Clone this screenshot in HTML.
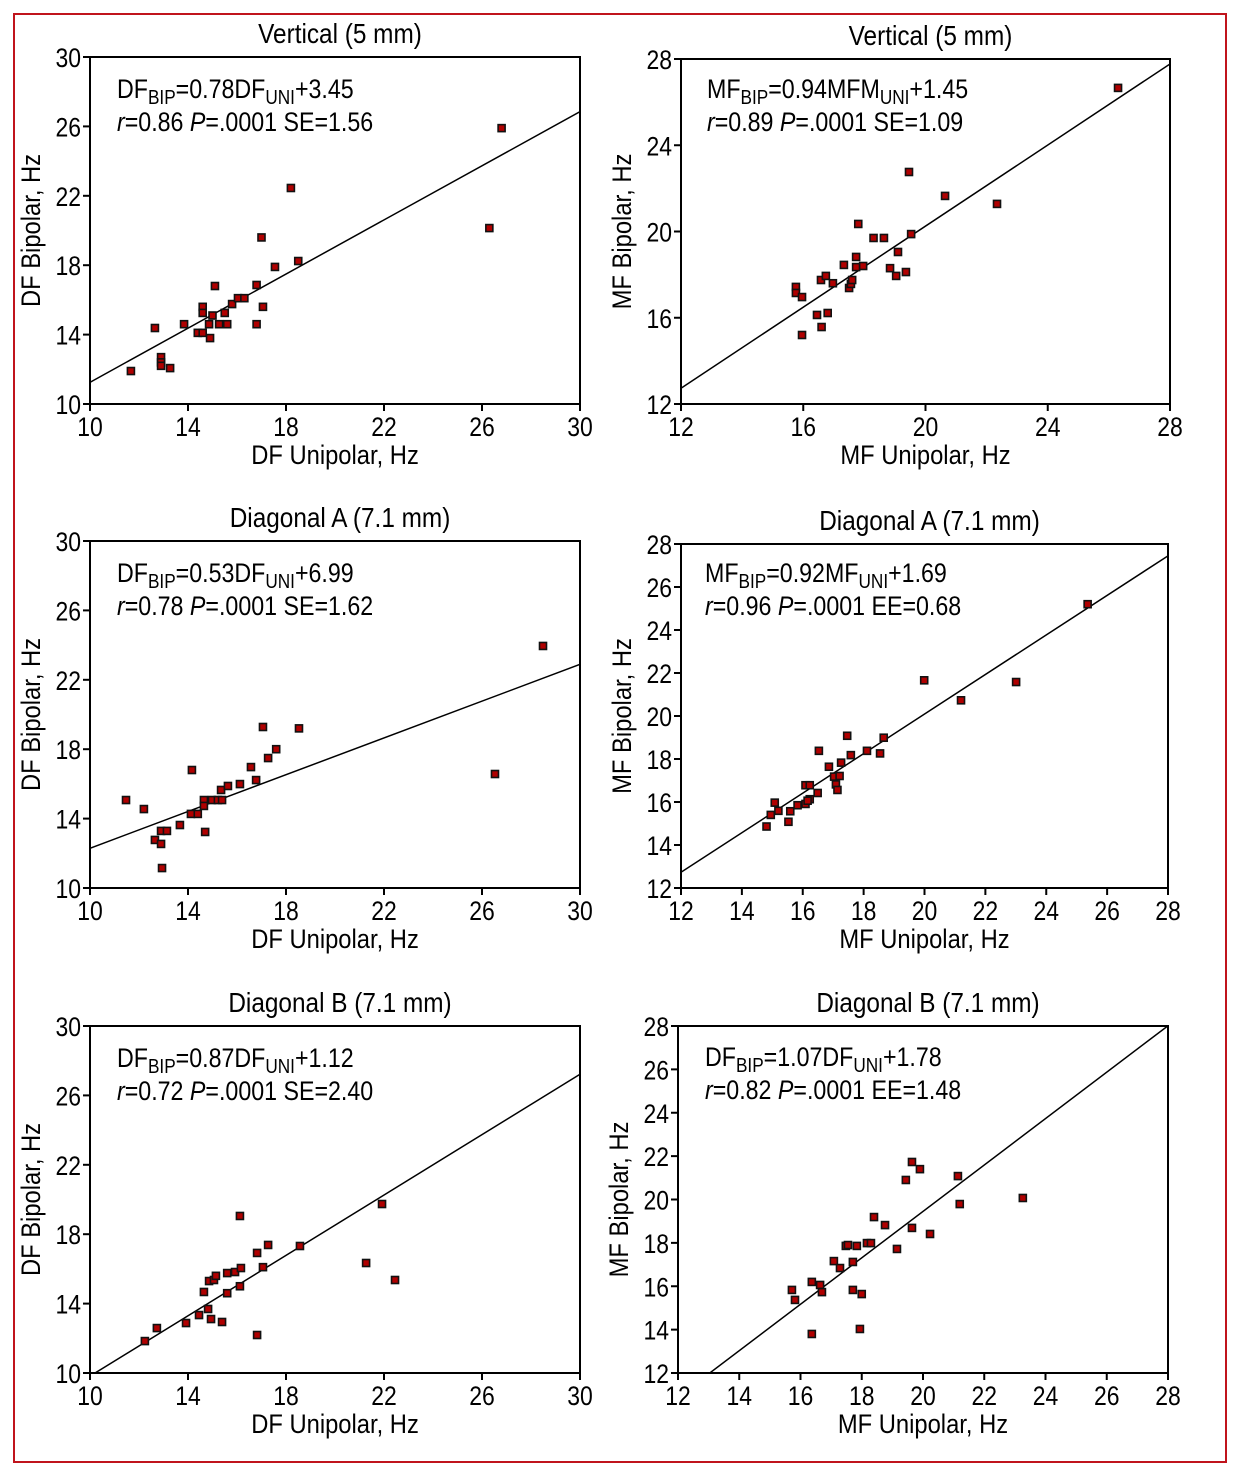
<!DOCTYPE html>
<html><head><meta charset="utf-8"><style>
html,body{margin:0;padding:0;background:#fff}
svg{display:block}
text{font-family:"Liberation Sans Narrow","Liberation Sans",sans-serif;fill:#000}
</style></head><body>
<svg id="fig" width="1235" height="1475" viewBox="0 0 1235 1475" xmlns="http://www.w3.org/2000/svg">
<rect x="14" y="14" width="1212" height="1448" fill="none" stroke="#c0141c" stroke-width="2"/>
</svg>
<script>
// ---- data ----
const p1x=[11.67,12.65,12.9,12.9,12.9,13.27,13.84,14.4,14.6,14.6,14.6,14.86,14.9,15.0,15.1,15.27,15.5,15.6,15.8,16.04,16.3,16.8,16.8,17.0,17.06,17.55,18.2,18.5,26.3,26.8];
const p1y=[11.9,14.38,12.7,12.4,12.2,12.07,14.6,14.1,14.1,15.6,15.25,14.6,13.8,15.1,16.8,14.6,15.25,14.6,15.76,16.1,16.1,14.6,16.86,19.6,15.6,17.9,22.45,18.24,20.14,25.9];
const p2x=[15.76,15.76,15.96,15.96,16.45,16.58,16.6,16.74,16.8,16.97,17.33,17.5,17.56,17.6,17.73,17.73,17.8,17.96,18.3,18.64,18.84,19.04,19.1,19.36,19.46,19.53,20.64,22.34,26.3];
const p2y=[17.43,17.15,16.96,15.2,16.13,17.75,15.57,17.94,16.22,17.6,18.45,17.38,17.57,17.75,18.82,18.35,20.35,18.4,19.7,19.7,18.3,17.94,19.05,18.12,22.76,19.88,21.65,21.28,26.66];
const p3x=[11.47,12.2,12.65,12.9,12.9,12.94,13.14,13.67,14.16,14.12,14.4,14.65,14.65,14.7,14.98,15.22,15.35,15.39,15.63,16.12,16.57,16.78,17.06,17.27,17.6,18.53,26.53,28.49];
const p3y=[15.07,14.55,12.77,13.29,12.54,11.15,13.29,13.63,16.8,14.27,14.27,15.07,14.73,13.23,15.07,15.07,15.65,15.07,15.88,15.99,16.97,16.22,19.28,17.49,18.0,19.2,16.57,23.95];
const p4x=[14.81,14.95,15.08,15.2,15.53,15.59,15.83,16.09,16.09,16.23,16.23,16.16,16.49,16.53,16.86,17.03,17.09,17.14,17.21,17.26,17.46,17.58,18.11,18.54,18.66,19.99,21.2,23.01,25.36];
const p4y=[14.86,15.4,15.97,15.59,15.08,15.57,15.85,15.91,16.78,16.78,16.13,16.06,16.42,18.38,17.64,17.18,16.82,16.56,17.21,17.83,19.08,18.18,18.38,18.26,18.99,21.66,20.73,21.58,25.2];
const p5x=[12.24,12.73,13.92,14.45,14.65,14.82,14.86,14.94,15.06,15.14,15.39,15.6,15.6,15.92,16.12,16.16,16.12,16.82,16.82,17.06,17.27,18.57,21.27,21.92,22.45];
const p5y=[11.84,12.59,12.88,13.34,14.67,13.69,15.3,13.11,15.36,15.6,12.94,14.6,15.76,15.82,15.0,16.05,19.05,16.92,12.19,16.1,17.38,17.32,16.34,19.74,15.36];
const p6x=[15.72,15.82,16.37,16.37,16.64,16.7,17.09,17.29,17.48,17.55,17.71,17.71,17.84,17.94,18.0,18.17,18.3,18.4,18.76,19.15,19.44,19.64,19.64,19.9,20.23,21.14,21.2,23.26];
const p6y=[15.83,15.37,13.8,16.2,16.06,15.73,17.16,16.84,17.86,17.9,17.12,15.83,17.86,14.03,15.64,17.99,17.99,19.19,18.82,17.72,20.9,18.69,21.73,21.4,18.41,21.08,19.79,20.07];
const lineSlope=[0.78,0.94,0.53,0.92,0.87,1.07];
const lineIntercept=[3.45,1.45,6.99,1.69,1.12,-1.95];
const dfTicks=[10,14,18,22,26,30];
const mfTicksA=[12,16,20,24,28];
const mfTicksB=[12,14,16,18,20,22,24,26,28];
const titles=["Vertical (5 mm)","Vertical (5 mm)","Diagonal A (7.1 mm)","Diagonal A (7.1 mm)","Diagonal B (7.1 mm)","Diagonal B (7.1 mm)"];

const NS="http://www.w3.org/2000/svg";
const svg=document.getElementById('fig');
const FS=27;
function mk(tag,attrs,parent){const e=document.createElementNS(NS,tag);for(const k in attrs)e.setAttribute(k,attrs[k]);(parent||svg).appendChild(e);return e;}
function txt(parent,x,y,anchor,size,rot,sxv){
 const tr=`translate(${x},${y})`+(rot?' rotate(-90)':'')+` scale(${sxv||0.85},1)`;
 return mk('text',{x:0,y:0,'text-anchor':anchor,'font-size':size,transform:tr},parent);
}

const panels=[
 {L:90,R:580,T:57,B:404,x0:10,x1:30,y0:10,y1:30,xt:dfTicks,yt:dfTicks,xs:p1x,ys:p1y,xl:"DF Unipolar, Hz",yl:"DF Bipolar, Hz",
  eq:["DF","BIP","=0.78DF","UNI","+3.45"],eq2:["r","=0.86 ","P","=.0001 SE=1.56"],ex:117,ey:98},
 {L:681,R:1170,T:59,B:404,x0:12,x1:28,y0:12,y1:28,xt:mfTicksA,yt:mfTicksA,xs:p2x,ys:p2y,xl:"MF Unipolar, Hz",yl:"MF Bipolar, Hz",
  eq:["MF","BIP","=0.94MFM","UNI","+1.45"],eq2:["r","=0.89 ","P","=.0001 SE=1.09"],ex:707,ey:98},
 {L:90,R:580,T:541,B:888,x0:10,x1:30,y0:10,y1:30,xt:dfTicks,yt:dfTicks,xs:p3x,ys:p3y,xl:"DF Unipolar, Hz",yl:"DF Bipolar, Hz",
  eq:["DF","BIP","=0.53DF","UNI","+6.99"],eq2:["r","=0.78 ","P","=.0001 SE=1.62"],ex:117,ey:582},
 {L:681,R:1168,T:544,B:888,x0:12,x1:28,y0:12,y1:28,xt:mfTicksB,yt:mfTicksB,xs:p4x,ys:p4y,xl:"MF Unipolar, Hz",yl:"MF Bipolar, Hz",
  eq:["MF","BIP","=0.92MF","UNI","+1.69"],eq2:["r","=0.96 ","P","=.0001 EE=0.68"],ex:705,ey:582},
 {L:90,R:580,T:1026,B:1373,x0:10,x1:30,y0:10,y1:30,xt:dfTicks,yt:dfTicks,xs:p5x,ys:p5y,xl:"DF Unipolar, Hz",yl:"DF Bipolar, Hz",
  eq:["DF","BIP","=0.87DF","UNI","+1.12"],eq2:["r","=0.72 ","P","=.0001 SE=2.40"],ex:117,ey:1067},
 {L:678,R:1168,T:1026,B:1373,x0:12,x1:28,y0:12,y1:28,xt:mfTicksB,yt:mfTicksB,xs:p6x,ys:p6y,xl:"MF Unipolar, Hz",yl:"MF Bipolar, Hz",
  eq:["DF","BIP","=1.07DF","UNI","+1.78"],eq2:["r","=0.82 ","P","=.0001 EE=1.48"],ex:705,ey:1066}
];

panels.forEach((p,i)=>{
 const g=mk('g',{});
 
 
 const sx=v=>p.L+(v-p.x0)/(p.x1-p.x0)*(p.R-p.L);
 const sy=v=>p.B-(v-p.y0)/(p.y1-p.y0)*(p.B-p.T);
 const cp=mk('clipPath',{id:'clip'+i},g);
 mk('rect',{x:p.L,y:p.T,width:p.R-p.L,height:p.B-p.T},cp);
 const box=mk('rect',{x:p.L,y:p.T,width:p.R-p.L,height:p.B-p.T,fill:'none',stroke:'#000','stroke-width':2},g);
 
 
 const cx=(p.L+p.R)/2, cy=(p.T+p.B)/2;
 const t=txt(g,cx+5,p.T-14,'middle',28,false,0.87);t.textContent=titles[i];
 
 
 const xl=txt(g,cx,p.B+60,'middle',FS,false,0.88);xl.textContent=p.xl;
 
 
 const yl=txt(g,p.L-50,cy,'middle',FS,true,0.88);yl.textContent=p.yl;
 
 
 p.xt.forEach(v=>{
  const x=sx(v);
  mk('line',{x1:x,x2:x,y1:p.B,y2:p.B+7,stroke:'#000','stroke-width':2},g);
  const tl=txt(g,x,p.B+32,'middle',FS);tl.textContent=v;
  
  
 });
 p.yt.forEach(v=>{
  const y=sy(v);
  mk('line',{x1:p.L-7,x2:p.L,y1:y,y2:y,stroke:'#000','stroke-width':2},g);
  const tl=txt(g,p.L-9,y+10,'end',FS);tl.textContent=v;
  
  
 });
 const a=lineSlope[i], b=lineIntercept[i];
 const ln=mk('line',{x1:sx(p.x0),y1:sy(a*p.x0+b),x2:sx(p.x1),y2:sy(a*p.x1+b),stroke:'#000','stroke-width':1.5,'clip-path':`url(#clip${i})`},g);
 
 
 p.xs.forEach((xv,k)=>{
  const r=mk('rect',{x:sx(xv)-3.5,y:sy(p.ys[k])-3.5,width:7,height:7,fill:'#b00000',stroke:'#111','stroke-width':1.6},g);
  
  
 });
 const e=p.eq;
 const eq=txt(g,p.ex,p.ey,'start',FS,false,0.86);
 
 
 const dys=[0,6,-6,6,-6];
 e.forEach((s,k)=>{
  const ts=mk('tspan',{'font-size':k%2?20:FS,dy:dys[k]},eq);
  ts.textContent=s;
 });
 const st=txt(g,p.ex,p.ey+33,'start',FS,false,0.86);
 
 
 p.eq2.forEach((s,k)=>{const ts=mk('tspan',k%2===0?{'font-style':'italic'}:{},st);ts.textContent=s;});
});
</script>
</body></html>
